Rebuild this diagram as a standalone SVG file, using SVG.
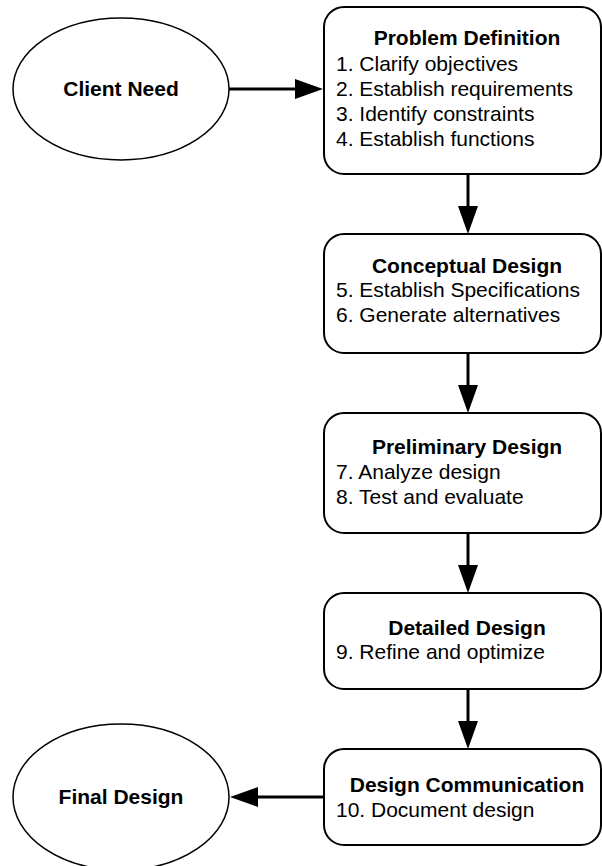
<svg xmlns="http://www.w3.org/2000/svg" width="602" height="866" viewBox="0 0 602 866">
<style>
  .node { fill: #ffffff; stroke: #000000; stroke-width: 2; }
  .oval { fill: #ffffff; stroke: #000000; stroke-width: 1.5; }
  .title { font-family: "Liberation Sans", Arial, sans-serif; font-size: 21px; font-weight: bold; fill: #000; text-anchor: middle; }
  .item { font-family: "Liberation Sans", Arial, sans-serif; font-size: 21px; fill: #000; }
  .conn { stroke: #000; stroke-width: 3; fill: none; marker-end: url(#arrow); }
</style>
<defs>
  <marker id="arrow" markerUnits="userSpaceOnUse" viewBox="0 0 28 20" refX="12" refY="10" markerWidth="28" markerHeight="20" orient="auto">
    <path d="M0,0 L28,10 L0,20 Z" fill="#000"/>
  </marker>
</defs>
<rect width="602" height="866" fill="#ffffff"/>
<g id="connectors">
  <line class="conn" x1="229" y1="89" x2="307" y2="89"/>
  <line class="conn" x1="468" y1="174" x2="468" y2="218"/>
  <line class="conn" x1="468" y1="353" x2="468" y2="397"/>
  <line class="conn" x1="468" y1="533" x2="468" y2="577"/>
  <line class="conn" x1="468" y1="689" x2="468" y2="733"/>
  <line class="conn" x1="324" y1="797" x2="246" y2="797"/>
</g>
<g id="client-need">
  <ellipse class="oval" cx="121" cy="89" rx="108" ry="71"/>
  <text class="title" x="121" y="96">Client Need</text>
</g>
<g id="problem-definition">
  <rect class="node" x="324" y="7" width="277" height="167" rx="20" ry="20"/>
  <text class="title" x="467" y="45">Problem Definition</text>
  <text class="item" x="336" y="71">1. Clarify objectives</text>
  <text class="item" x="336" y="96">2. Establish requirements</text>
  <text class="item" x="336" y="121">3. Identify constraints</text>
  <text class="item" x="336" y="146">4. Establish functions</text>
</g>
<g id="conceptual-design">
  <rect class="node" x="324" y="234" width="277" height="119" rx="20" ry="20"/>
  <text class="title" x="467" y="273">Conceptual Design</text>
  <text class="item" x="336" y="297">5. Establish Specifications</text>
  <text class="item" x="336" y="322">6. Generate alternatives</text>
</g>
<g id="preliminary-design">
  <rect class="node" x="324" y="413" width="277" height="120" rx="20" ry="20"/>
  <text class="title" x="467" y="454">Preliminary Design</text>
  <text class="item" x="336" y="479">7. Analyze design</text>
  <text class="item" x="336" y="504">8. Test and evaluate</text>
</g>
<g id="detailed-design">
  <rect class="node" x="324" y="593" width="277" height="96" rx="20" ry="20"/>
  <text class="title" x="467" y="635">Detailed Design</text>
  <text class="item" x="336" y="659">9. Refine and optimize</text>
</g>
<g id="design-communication">
  <rect class="node" x="324" y="749" width="277" height="96" rx="20" ry="20"/>
  <text class="title" x="467" y="792">Design Communication</text>
  <text class="item" x="336" y="817">10. Document design</text>
</g>
<g id="final-design">
  <ellipse class="oval" cx="121" cy="797" rx="108" ry="73"/>
  <text class="title" x="121" y="804">Final Design</text>
</g>
</svg>
